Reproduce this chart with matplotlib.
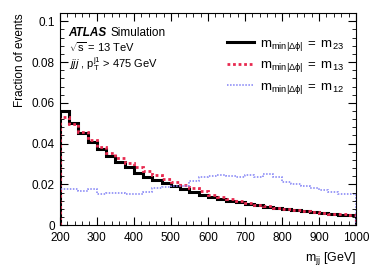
import numpy as np
import matplotlib.pyplot as plt
from matplotlib.ticker import MultipleLocator

plt.rcParams['font.family'] = ['Liberation Sans', 'DejaVu Sans']
plt.rcParams['mathtext.fontset'] = 'custom'
plt.rcParams['mathtext.rm'] = 'Liberation Sans'
plt.rcParams['mathtext.it'] = 'Liberation Sans:italic'
plt.rcParams['mathtext.bf'] = 'Liberation Sans:bold'

# bin edges in m_jj [GeV], 25 GeV bins
edges = np.arange(200, 1001, 25)

m23 = [0.0561, 0.0499, 0.0452, 0.0408, 0.0373, 0.0340, 0.0308, 0.0283,
       0.0258, 0.0237, 0.0220, 0.0205, 0.0190, 0.0176, 0.0163, 0.0150,
       0.0139, 0.0129, 0.0120, 0.0112, 0.0104, 0.0097, 0.0090, 0.0084,
       0.0078, 0.0073, 0.0068, 0.0064, 0.0060, 0.0056, 0.0052, 0.0048]

m13 = [0.0530, 0.0494, 0.0455, 0.0417, 0.0385, 0.0355, 0.0327, 0.0305,
       0.0285, 0.0266, 0.0246, 0.0228, 0.0212, 0.0197, 0.0180, 0.0165,
       0.0150, 0.0138, 0.0127, 0.0117, 0.0108, 0.0100, 0.0093, 0.0086,
       0.0080, 0.0075, 0.0070, 0.0065, 0.0061, 0.0057, 0.0053, 0.0049]

m12 = [0.0177, 0.0177, 0.0168, 0.0177, 0.0152, 0.0159, 0.0157, 0.0151,
       0.0155, 0.0163, 0.0184, 0.0188, 0.0190, 0.0192, 0.0215, 0.0235,
       0.0240, 0.0244, 0.0240, 0.0237, 0.0245, 0.0236, 0.0250, 0.0235,
       0.0212, 0.0202, 0.0192, 0.0181, 0.0173, 0.0162, 0.0155, 0.0153]

labels = [r'$\mathrm{m_{min|\Delta\phi|}\;=\;m_{23}}$',
          r'$\mathrm{m_{min|\Delta\phi|}\;=\;m_{13}}$',
          r'$\mathrm{m_{min|\Delta\phi|}\;=\;m_{12}}$']

fig = plt.figure(figsize=(3.74, 2.68), dpi=100)
ax = fig.add_axes([0.160, 0.160, 0.792, 0.791])

ax.stairs(m23, edges, color='black', lw=2.2, label=labels[0])
ax.stairs(m13, edges, color='#e8294f', lw=2.0, ls=(0, (1, 1)), label=labels[1])
ax.stairs(m12, edges, color='#8080f5', lw=1.1, ls=(0, (1, 1)), label=labels[2])

ax.set_xlim(200, 1000)
ax.set_ylim(0, 0.104)
ax.xaxis.set_major_locator(MultipleLocator(100))
ax.xaxis.set_minor_locator(MultipleLocator(20))
ax.yaxis.set_major_locator(MultipleLocator(0.02))
ax.yaxis.set_minor_locator(MultipleLocator(0.004))
ax.set_yticks([0, 0.02, 0.04, 0.06, 0.08, 0.1])
ax.set_yticklabels(['0', '0.02', '0.04', '0.06', '0.08', '0.1'])
ax.tick_params(which='both', direction='in', top=True, right=True, labelsize=8.5)
ax.tick_params(which='major', length=6)
ax.tick_params(which='minor', length=3)
ax.tick_params(axis='x', which='major', pad=5)

ax.set_ylabel('Fraction of events', fontsize=8.5, loc='top')
ax.set_xlabel(r'$\mathrm{m_{jj}}$ [GeV]', fontsize=9, loc='right')

ax.text(0.03, 0.892, 'ATLAS', transform=ax.transAxes, fontsize=8.5,
        fontweight='bold', fontstyle='italic', va='baseline')
ax.text(0.17, 0.892, 'Simulation', transform=ax.transAxes, fontsize=8.5,
        va='baseline')
ax.text(0.03, 0.818, r'$\sqrt{\mathrm{s}}$ = 13 TeV', transform=ax.transAxes,
        fontsize=8, va='baseline')
ax.text(0.03, 0.742, r'$jjj$ , $\mathrm{p_T^{j1}}$ > 475 GeV', transform=ax.transAxes,
        fontsize=8, va='baseline')

ax.legend(loc='upper right', bbox_to_anchor=(1.0, 0.94), frameon=False,
          fontsize=9.5, handlelength=2.0, handletextpad=0.5, labelspacing=0.45)

fig.savefig('out.png', dpi=100)
